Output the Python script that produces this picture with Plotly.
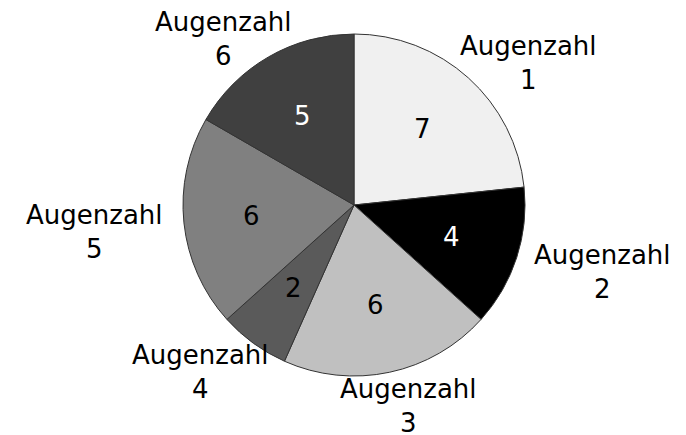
import math
import plotly.graph_objects as go

categories = ["Augenzahl<br>1", "Augenzahl<br>2", "Augenzahl<br>3",
              "Augenzahl<br>4", "Augenzahl<br>5", "Augenzahl<br>6"]
values = [7, 4, 6, 2, 6, 5]
colors = ["#f0f0f0", "#000000", "#c0c0c0", "#5a5a5a", "#808080", "#404040"]
value_font_colors = ["#000000", "#ffffff", "#000000", "#000000", "#000000", "#ffffff"]

W, H = 686, 435
cx, cy, R = 354, 205, 171
dom_x = [(cx - R) / W, (cx + R) / W]
dom_y = [(H - cy - R) / H, (H - cy + R) / H]

fig = go.Figure()
fig.add_trace(go.Pie(
    values=values, labels=[c.replace("<br>", " ") for c in categories],
    textinfo="none", sort=False, direction="clockwise", rotation=0,
    marker=dict(colors=colors, line=dict(color="#333333", width=1)),
    domain=dict(x=dom_x, y=dom_y), showlegend=False,
))

# text placed at each slice's mid-angle (derived from the values)
FS = 26
hw, hh, gap, inner, ydrop = 84, 22, 6, 0.6, 6
total = sum(values)
cum = 0
annotations = []
for cat, v, fc in zip(categories, values, value_font_colors):
    mid = (cum + v / 2) / total * 2 * math.pi
    cum += v
    ux, uy = math.sin(mid), -math.cos(mid)
    # value inside the slice
    px, py = cx + inner * R * ux, cy + inner * R * uy
    annotations.append(dict(
        x=px / W, y=1 - py / H, xref="paper", yref="paper",
        text=str(v), showarrow=False, xanchor="center", yanchor="middle",
        font=dict(family="DejaVu Sans", size=FS, color=fc)))
    # category label outside the slice
    lx = cx + (R + gap) * ux + hw * ux
    ly = cy + (R + gap) * uy + hh * uy + ydrop
    annotations.append(dict(
        x=lx / W, y=1 - ly / H, xref="paper", yref="paper",
        text=cat, showarrow=False, xanchor="center", yanchor="middle",
        align="center",
        font=dict(family="DejaVu Sans", size=FS, color="#000000")))

fig.update_layout(
    width=W, height=H, margin=dict(l=0, r=0, t=0, b=0),
    paper_bgcolor="white", plot_bgcolor="white", showlegend=False,
    annotations=annotations,
)
fig.write_html("out.html", config={"displayModeBar": False},
               post_script="document.body.style.margin='0';document.body.style.overflow='hidden';")
